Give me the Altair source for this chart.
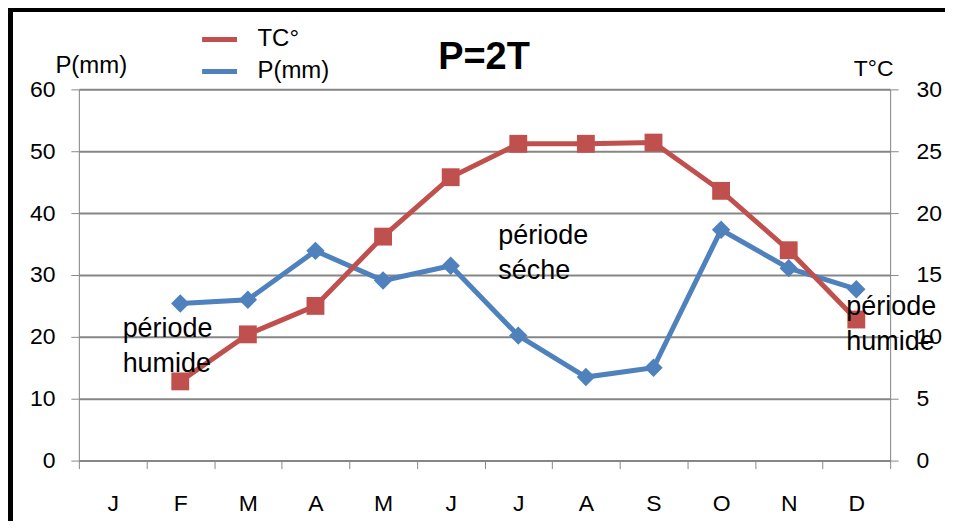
import altair as alt
import pandas as pd

# ---- data ----
months = ["Jan", "Feb", "Mar", "Apr", "May", "Jun", "Jul", "Aug", "Sep", "Oct", "Nov", "Dec"]
month_labels = ["J", "F", "M", "A", "M", "J", "J", "A", "S", "O", "N", "D"]

temp_months = ["Feb", "Mar", "Apr", "May", "Jun", "Jul", "Aug", "Sep", "Oct", "Nov", "Dec"]
temp_c = [6.4, 10.2, 12.5, 18.1, 22.9, 25.6, 25.6, 25.7, 21.8, 17.0, 11.4]

precip_months = ["Feb", "Mar", "Apr", "May", "Jun", "Jul", "Aug", "Sep", "Oct", "Nov", "Dec"]
precip_mm = [25.4, 26.0, 33.9, 29.1, 31.5, 20.2, 13.5, 15.0, 37.3, 31.1, 27.7]

series_names = ["TC°", "P(mm)"]
series_colors = ["#C0504D", "#4F81BD"]

chart_title = ["P=2T"]

annot_lines = [["période", "humide"], ["période", "séche"], ["période", "humide"]]
annot_month = ["Jan", "Jul", "Dec"]
annot_p = [20, 35, 23.5]

# ---- tables ----
df_p = pd.DataFrame({"month": precip_months, "P": precip_mm, "series": series_names[1]})
df_t = pd.DataFrame({"month": temp_months, "T": temp_c, "series": series_names[0]})
df_title = pd.DataFrame({"txt": chart_title})

FONT = "Liberation Sans"
GRID = "#868686"

month_js = "[" + ",".join("'%s'" % m for m in months) + "]"
label_js = "[" + ",".join("'%s'" % m for m in month_labels) + "]"
label_expr = f"{label_js}[indexof({month_js}, datum.value)]"

x_enc = alt.X(
    "month:N",
    scale=alt.Scale(type="band", domain=months, paddingInner=0, paddingOuter=0),
    bandPosition=0.5,
    sort=months,
    axis=alt.Axis(
        title=None, tickBand="extent", labelExpr=label_expr, labelAngle=0,
        tickSize=8, labelPadding=24, labelFontSize=23, labelBaseline="top",
        grid=False,
    ),
)

color_enc = alt.Color(
    "series:N",
    scale=alt.Scale(domain=series_names, range=series_colors),
    legend=alt.Legend(
        title=None, orient="none", legendX=121, legendY=-70,
        symbolType="stroke", symbolStrokeWidth=5, symbolSize=1225,
        labelFontSize=24, labelFont=FONT, labelColor="black", labelOffset=18,
        rowPadding=0, padding=0,
    ),
)

y_p = alt.Y(
    "P:Q",
    scale=alt.Scale(domain=[0, 60], nice=False),
    axis=alt.Axis(
        values=[0, 10, 20, 30, 40, 50, 60], orient="left", grid=True,
        gridColor=GRID, gridWidth=2, gridOpacity=1,
        title="P(mm)", titleAngle=0, titleAlign="left", titleBaseline="alphabetic",
        titleX=-24, titleY=-17, titleFontSize=24, titleFontWeight="normal",
        tickSize=8, labelPadding=16, labelFontSize=23,
    ),
)

y_t = alt.Y(
    "T:Q",
    scale=alt.Scale(domain=[0, 30], nice=False),
    axis=alt.Axis(
        values=[0, 5, 10, 15, 20, 25, 30], orient="right", grid=False,
        title="T°C", titleAngle=0, titleAlign="right", titleBaseline="alphabetic",
        titleX=3, titleY=-14, titleFontSize=23, titleFontWeight="normal",
        tickSize=8, labelPadding=18, labelFontSize=23,
    ),
)

precip_line = alt.Chart(df_p).mark_line(strokeWidth=5).encode(x=x_enc, y=y_p, color=color_enc)
precip_pts = alt.Chart(df_p).mark_point(shape="diamond", filled=True, size=340, opacity=1).encode(
    x=x_enc, y=y_p, color=color_enc
)
temp_line = alt.Chart(df_t).mark_line(strokeWidth=5).encode(x=x_enc, y=y_t, color=color_enc)
temp_pts = alt.Chart(df_t).mark_point(shape="square", filled=True, size=320, opacity=1).encode(
    x=x_enc, y=y_t, color=color_enc
)

y_annot = alt.Y("P:Q", scale=alt.Scale(domain=[0, 60], nice=False), axis=None)

annot_layers = []
for lines, m, p, dx in zip(annot_lines, annot_month, annot_p, [10, -20, -10]):
    d = pd.DataFrame({"month": [m], "P": [p], "txt": [lines]})
    annot_layers.append(
        alt.Chart(d).mark_text(
            align="left", baseline="alphabetic", dx=dx, fontSize=27, font=FONT,
            color="black", lineHeight=35,
        ).encode(x=x_enc, y=y_annot, text="txt")
    )

# chart title drawn as a text mark so it sits between legend and plot like the reference
title_layer = alt.Chart(df_title).mark_text(
    align="center", baseline="alphabetic", fontSize=38, fontWeight="bold", font=FONT, color="black"
).encode(x=alt.value(406), y=alt.value(-20), text="txt")

# decorative black frame of the picture
frame_left = alt.Chart(df_p).mark_rule(color="black", strokeWidth=4).encode(
    x=alt.value(-68.5), y=alt.value(-81.5), y2=alt.value(500)
)
frame_top = alt.Chart(df_p).mark_rule(color="black", strokeWidth=4).encode(
    x=alt.value(-70.5), x2=alt.value(950), y=alt.value(-79.5)
)

left = alt.layer(precip_line, precip_pts)
right = alt.layer(temp_line, temp_pts)

chart = (
    alt.layer(left, right, *annot_layers, title_layer, frame_left, frame_top)
    .resolve_scale(y="independent")
    .properties(
        width=813, height=372,
        autosize=alt.AutoSizeParams(type="none"),
        padding={"left": 71, "top": 81, "right": 55, "bottom": 60},
    )
    .configure_view(strokeWidth=0)
    .configure_axis(
        domainColor=GRID, domainWidth=2, tickColor=GRID, tickWidth=2,
        gridColor=GRID, gridWidth=2, gridOpacity=1, labelColor="black", titleColor="black",
        labelFont=FONT, titleFont=FONT,
    )
    .configure(background="white")
)

chart.save("out.html", embed_options={"renderer": "svg", "actions": False})
